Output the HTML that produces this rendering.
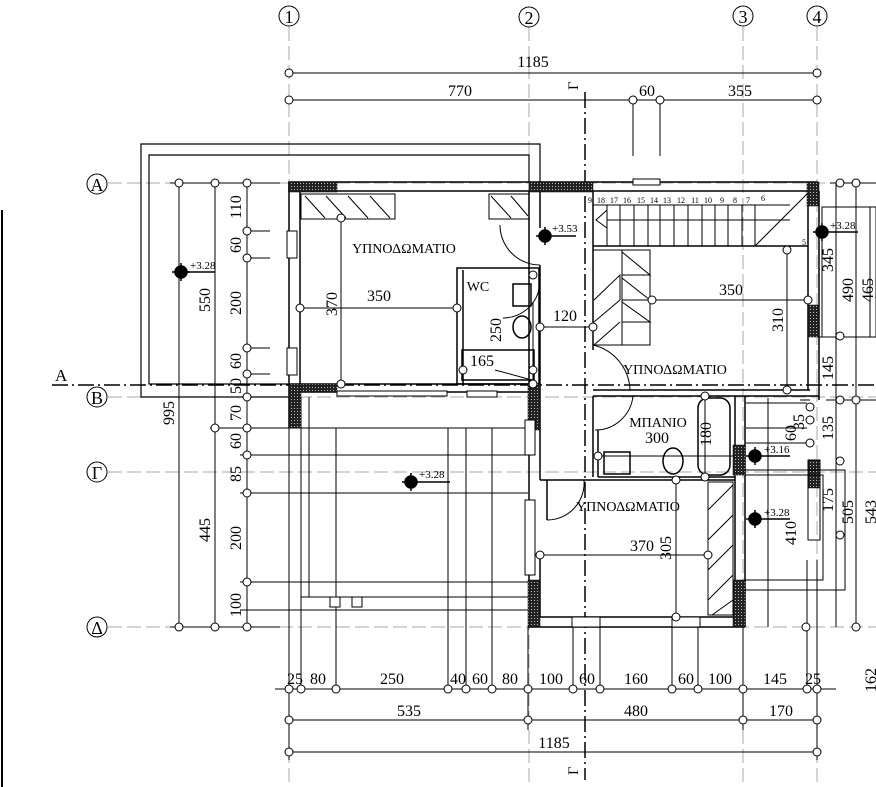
<!DOCTYPE html>
<html><head><meta charset="utf-8"><style>
html,body{margin:0;padding:0;background:#fff;}
svg{display:block;font-family:"Liberation Serif",serif;}
</style></head><body>
<svg width="876" height="787" viewBox="0 0 876 787" xmlns="http://www.w3.org/2000/svg">
<defs>
<pattern id="h" width="3" height="3" patternUnits="userSpaceOnUse"><rect width="3" height="3" fill="#222"/><rect x="0" y="0" width="1" height="1" fill="#bbb"/></pattern>
</defs>
<g stroke="#aaa" stroke-width="1" stroke-dasharray="14 5" fill="none">
<line x1="289" y1="27" x2="289" y2="787"/><line x1="529" y1="27" x2="529" y2="787"/>
<line x1="743" y1="27" x2="743" y2="787"/><line x1="817" y1="27" x2="817" y2="787"/>
<line x1="108" y1="183" x2="876" y2="183"/><line x1="108" y1="397" x2="876" y2="397"/>
<line x1="108" y1="472" x2="876" y2="472"/><line x1="108" y1="627" x2="876" y2="627"/>
</g>
<g stroke="#000" stroke-width="1" fill="#fff">
<circle cx="289" cy="16" r="10"/><circle cx="529" cy="17" r="10"/><circle cx="743" cy="16" r="10"/><circle cx="817" cy="16" r="10"/>
<circle cx="97" cy="184" r="10"/><circle cx="97" cy="397" r="10"/><circle cx="97" cy="472" r="10"/><circle cx="97" cy="627" r="10"/>
</g>
<g font-size="18" text-anchor="middle">
<text x="289" y="23">1</text><text x="529" y="24">2</text><text x="743" y="23">3</text><text x="817" y="23">4</text>
<text x="97" y="191">A</text><text x="97" y="404">B</text><text x="97" y="479">Γ</text><text x="97" y="634">Δ</text>
</g>
<g stroke="#000" stroke-width="1.5" stroke-dasharray="16 4 2 4" fill="none">
<line x1="52" y1="385" x2="876" y2="385"/>
<line x1="585" y1="92" x2="585" y2="780"/>
</g>
<text x="55" y="381" font-size="17">A</text>
<text x="0" y="0" font-size="15" transform="translate(578,90) rotate(-90)">Γ</text>
<text x="0" y="0" font-size="15" transform="translate(578,775) rotate(-90)">Γ</text>
<line x1="2" y1="210" x2="2" y2="787" stroke="#000" stroke-width="2"/>
<g stroke="#000" fill="none" stroke-width="1.2">
<polyline points="289,397 141,397 141,144 540,144 540,183"/>
<polyline points="289,384 149,384 149,155 529,155 529,183"/>
</g>
<g stroke="#000" stroke-width="1" fill="none">
<line x1="289" y1="73" x2="817" y2="73"/><line x1="289" y1="100" x2="817" y2="100"/>
<line x1="633" y1="100" x2="633" y2="156"/><line x1="660" y1="100" x2="660" y2="156"/>
<line x1="275" y1="689" x2="836" y2="689"/><line x1="289" y1="720" x2="817" y2="720"/><line x1="289" y1="752" x2="817" y2="752"/>
<line x1="179" y1="183" x2="179" y2="627"/><line x1="215" y1="183" x2="215" y2="627"/><line x1="247" y1="183" x2="247" y2="627"/>
<line x1="170" y1="183" x2="280" y2="183"/><line x1="170" y1="627" x2="280" y2="627"/>
<line x1="247" y1="231" x2="270" y2="231"/><line x1="247" y1="258" x2="270" y2="258"/>
<line x1="247" y1="348" x2="270" y2="348"/><line x1="247" y1="374" x2="270" y2="374"/>
<line x1="240" y1="455" x2="528" y2="455"/><line x1="240" y1="493" x2="528" y2="493"/>
<line x1="240" y1="582" x2="528" y2="582"/><line x1="240" y1="610" x2="528" y2="610"/>
<line x1="210" y1="428" x2="528" y2="428"/>
<line x1="336" y1="428" x2="336" y2="689"/><line x1="448" y1="428" x2="448" y2="689"/>
<line x1="466" y1="428" x2="466" y2="689"/><line x1="492" y1="428" x2="492" y2="689"/>
<line x1="301" y1="397" x2="301" y2="689"/><line x1="309" y1="397" x2="309" y2="597"/>
<line x1="301" y1="597" x2="528" y2="597"/>
<line x1="289" y1="397" x2="289" y2="760"/><line x1="528" y1="627" x2="528" y2="730"/>
<line x1="573" y1="627" x2="573" y2="689"/><line x1="600" y1="627" x2="600" y2="689"/>
<line x1="672" y1="627" x2="672" y2="689"/><line x1="698" y1="627" x2="698" y2="689"/>
<line x1="743" y1="627" x2="743" y2="730"/><line x1="807" y1="560" x2="807" y2="689"/>
<line x1="817" y1="560" x2="817" y2="760"/>
</g>
<g stroke="#000" stroke-width="1" fill="#fff">
<circle cx="289" cy="73" r="4"/><circle cx="817" cy="73" r="4"/>
<circle cx="289" cy="100" r="4"/><circle cx="633" cy="100" r="4"/><circle cx="660" cy="100" r="4"/><circle cx="817" cy="100" r="4"/>
<circle cx="289" cy="689" r="4"/><circle cx="301" cy="689" r="4"/><circle cx="336" cy="689" r="4"/><circle cx="448" cy="689" r="4"/><circle cx="466" cy="689" r="4"/><circle cx="492" cy="689" r="4"/><circle cx="528" cy="689" r="4"/><circle cx="573" cy="689" r="4"/><circle cx="600" cy="689" r="4"/><circle cx="672" cy="689" r="4"/><circle cx="698" cy="689" r="4"/><circle cx="743" cy="689" r="4"/><circle cx="807" cy="689" r="4"/><circle cx="817" cy="689" r="4"/>
<circle cx="289" cy="720" r="4"/><circle cx="528" cy="720" r="4"/><circle cx="743" cy="720" r="4"/><circle cx="817" cy="720" r="4"/>
<circle cx="289" cy="752" r="4"/><circle cx="817" cy="752" r="4"/>
<circle cx="179" cy="183" r="4"/><circle cx="215" cy="183" r="4"/><circle cx="247" cy="183" r="4"/>
<circle cx="247" cy="231" r="4"/><circle cx="247" cy="258" r="4"/><circle cx="247" cy="348" r="4"/><circle cx="247" cy="374" r="4"/><circle cx="247" cy="397" r="4"/>
<circle cx="215" cy="428" r="4"/><circle cx="247" cy="428" r="4"/><circle cx="247" cy="455" r="4"/><circle cx="247" cy="493" r="4"/><circle cx="247" cy="582" r="4"/>
<circle cx="179" cy="627" r="4"/><circle cx="215" cy="627" r="4"/><circle cx="247" cy="627" r="4"/>
</g>
<g font-size="16" text-anchor="middle">
<text x="533" y="67">1185</text><text x="460" y="96">770</text><text x="647" y="96">60</text><text x="740" y="96">355</text>
<text x="295" y="684">25</text><text x="318" y="684">80</text><text x="392" y="684">250</text><text x="458" y="684">40</text><text x="480" y="684">60</text><text x="510" y="684">80</text><text x="551" y="684">100</text><text x="587" y="684">60</text><text x="636" y="684">160</text><text x="686" y="684">60</text><text x="720" y="684">100</text><text x="775" y="684">145</text><text x="813" y="684">25</text>
<text x="409" y="716">535</text><text x="636" y="716">480</text><text x="781" y="716">170</text>
<text x="554" y="748">1185</text>
</g>
<g font-size="16" text-anchor="middle">
<text transform="translate(241,207) rotate(-90)">110</text>
<text transform="translate(241,245) rotate(-90)">60</text>
<text transform="translate(241,303) rotate(-90)">200</text>
<text transform="translate(241,361) rotate(-90)">60</text>
<text transform="translate(241,386) rotate(-90)">50</text>
<text transform="translate(241,413) rotate(-90)">70</text>
<text transform="translate(241,441) rotate(-90)">60</text>
<text transform="translate(241,474) rotate(-90)">85</text>
<text transform="translate(241,538) rotate(-90)">200</text>
<text transform="translate(241,605) rotate(-90)">100</text>
<text transform="translate(210,300) rotate(-90)">550</text>
<text transform="translate(210,530) rotate(-90)">445</text>
<text transform="translate(174,413) rotate(-90)">995</text>
</g>
<g stroke="#000" fill="#000" stroke-width="1.5">
<circle cx="181" cy="272" r="6"/><line x1="172" y1="272" x2="190" y2="272"/><line x1="181" y1="263" x2="181" y2="281"/><line x1="186" y1="272" x2="215" y2="272"/>
<circle cx="411" cy="482" r="6"/><line x1="402" y1="482" x2="450" y2="482"/><line x1="411" y1="473" x2="411" y2="491"/>
<circle cx="545" cy="236" r="6"/><line x1="536" y1="236" x2="576" y2="236"/><line x1="545" y1="227" x2="545" y2="245"/>
<circle cx="822" cy="232" r="6"/><line x1="813" y1="232" x2="858" y2="232"/><line x1="822" y1="223" x2="822" y2="241"/>
<circle cx="755" cy="456" r="6"/><line x1="746" y1="456" x2="790" y2="456"/><line x1="755" y1="447" x2="755" y2="465"/>
<circle cx="755" cy="519" r="6"/><line x1="746" y1="519" x2="790" y2="519"/><line x1="755" y1="510" x2="755" y2="528"/>
</g>
<g font-size="11">
<text x="190" y="269">+3.28</text><text x="419" y="478">+3.28</text><text x="552" y="232">+3.53</text>
<text x="830" y="229">+3.28</text><text x="764" y="453">+3.16</text><text x="764" y="516">+3.28</text>
</g>
<g stroke="#000" stroke-width="1.5" fill="none">
<rect x="289" y="182" width="528" height="9"/>
<line x1="300" y1="191" x2="300" y2="384"/><line x1="289" y1="182" x2="289" y2="428"/>
<line x1="289" y1="384" x2="529" y2="384"/><line x1="289" y1="392" x2="529" y2="392"/>
<line x1="529" y1="191" x2="529" y2="627"/><line x1="540" y1="191" x2="540" y2="228"/>
<line x1="540" y1="265" x2="540" y2="384"/>
<line x1="540" y1="384" x2="540" y2="480"/><line x1="547" y1="480" x2="547" y2="520"/>
<line x1="540" y1="555" x2="540" y2="617"/>
<rect x="457" y="268" width="82" height="116"/><line x1="463" y1="270" x2="463" y2="384"/>
<rect x="462" y="350" width="72" height="30"/>
<line x1="593" y1="191" x2="593" y2="350"/><line x1="808" y1="191" x2="808" y2="390"/><line x1="819" y1="191" x2="819" y2="400"/>
<line x1="593" y1="246" x2="808" y2="246"/>
<line x1="593" y1="390" x2="810" y2="390"/><line x1="593" y1="396" x2="819" y2="396"/>
<line x1="735" y1="396" x2="735" y2="627"/><line x1="745" y1="396" x2="745" y2="627"/>
<line x1="593" y1="396" x2="593" y2="477"/><line x1="598" y1="430" x2="598" y2="477"/>
<line x1="598" y1="477" x2="735" y2="477"/><line x1="540" y1="480" x2="735" y2="480"/>
<line x1="528" y1="617" x2="745" y2="617"/><line x1="528" y1="627" x2="745" y2="627"/>
<rect x="698" y="398" width="32" height="77" rx="10"/>
<rect x="604" y="452" width="26" height="22"/>
<ellipse cx="673" cy="461" rx="10" ry="13"/>
<ellipse cx="522" cy="327" rx="9" ry="11"/>
<rect x="513" y="284" width="18" height="22"/>
</g>
<g fill="url(#h)" stroke="#000" stroke-width="0.5">
<rect x="289" y="182" width="48" height="10"/><rect x="529" y="182" width="64" height="10"/><rect x="807" y="182" width="12" height="24"/>
<rect x="289" y="384" width="12" height="44"/><rect x="300" y="384" width="37" height="8"/>
<rect x="528" y="384" width="12" height="46"/><rect x="808" y="305" width="11" height="32"/>
<rect x="733" y="445" width="12" height="30"/><rect x="808" y="460" width="12" height="28"/>
<rect x="528" y="580" width="12" height="47"/><rect x="733" y="580" width="12" height="47"/>
</g>
<g stroke="#000" fill="#fff" stroke-width="1">
<rect x="287" y="231" width="10" height="27"/><rect x="287" y="348" width="10" height="27"/>
<rect x="337" y="391" width="110" height="5"/><rect x="467" y="391" width="30" height="6"/>
<rect x="633" y="179" width="27" height="6"/>
<rect x="525" y="420" width="10" height="35"/><rect x="525" y="500" width="10" height="75"/>
<rect x="572" y="617" width="28" height="10"/><rect x="672" y="617" width="28" height="10"/>
<rect x="330" y="597" width="10" height="10"/><rect x="352" y="597" width="10" height="10"/>
</g>
<g stroke="#000" stroke-width="1" fill="none">
<rect x="301" y="194" width="94" height="25"/><rect x="489" y="194" width="40" height="25"/>
<path d="M305,196 L325,218 M326,196 L346,218 M348,196 L368,218 M370,196 L390,218 M491,196 L511,218 M511,196 L528,216"/>
<rect x="593" y="250" width="57" height="95"/>
<line x1="622" y1="250" x2="622" y2="345"/>
<path d="M622,252 L650,275 L622,275 M622,278 L650,300 L622,300 M622,302 L650,322 L622,322 M594,300 L620,275 L620,300 M594,322 L620,300 M594,345 L620,322"/>
<rect x="708" y="482" width="25" height="133"/>
<path d="M733,485 L708,510 M733,515 L708,540 M733,545 L708,570 M733,575 L708,600 M733,600 L712,615"/>
<path d="M500,225 A40,40 0 0 0 540,265"/>
<path d="M540,280 A37,37 0 0 1 503,318"/>
<path d="M593,345 A48,48 0 0 1 630,390"/>
<path d="M595,430 A38,38 0 0 0 633,396"/>
<path d="M547,520 A37,37 0 0 0 584,480"/>
<line x1="593" y1="205" x2="790" y2="205"/>
<line x1="607" y1="220" x2="790" y2="220"/>
<path d="M607,205 V246 M620,205 V246 M634,205 V246 M648,205 V246 M660,205 V246 M674,205 V246 M688,205 V246 M702,205 V246 M715,205 V246 M728,205 V246 M742,205 V246 M755,205 V246 M755,246 L808,193 M607,210 L596,220 L607,228"/>
<line x1="341" y1="218" x2="341" y2="384"/><line x1="300" y1="308" x2="457" y2="308"/>
<line x1="540" y1="327" x2="593" y2="327"/><line x1="652" y1="300" x2="808" y2="300"/>
<line x1="787" y1="250" x2="787" y2="390"/><line x1="598" y1="456" x2="735" y2="456"/>
<line x1="705" y1="396" x2="705" y2="477"/><line x1="540" y1="555" x2="708" y2="555"/>
<line x1="676" y1="480" x2="676" y2="617"/><line x1="533" y1="302" x2="533" y2="384"/>
<line x1="495" y1="370" x2="532" y2="380" />
<line x1="836" y1="183" x2="836" y2="627"/><line x1="856" y1="183" x2="856" y2="627"/>
<line x1="830" y1="183" x2="876" y2="183"/>
<rect x="822" y="207" width="48" height="130"/><rect x="870" y="207" width="6" height="130"/>
<line x1="819" y1="337" x2="876" y2="337"/>
<line x1="826" y1="400" x2="876" y2="400"/>
<line x1="768" y1="398" x2="768" y2="627"/>
<line x1="746" y1="403" x2="807" y2="403"/>
<line x1="746" y1="428" x2="807" y2="428"/><line x1="746" y1="443" x2="807" y2="443"/>
<polyline points="745,475 823,475 823,580 745,580"/>
<polyline points="745,470 845,470 845,590 745,590"/>
<rect x="808" y="460" width="12" height="80"/>
<line x1="800" y1="400" x2="810" y2="400"/>
</g>
<g stroke="#000" fill="#fff" stroke-width="1">
<circle cx="341" cy="384" r="4"/><circle cx="341" cy="218" r="4"/><circle cx="300" cy="308" r="4"/><circle cx="457" cy="308" r="4"/>
<circle cx="540" cy="327" r="4"/><circle cx="593" cy="327" r="4"/><circle cx="652" cy="300" r="4"/><circle cx="808" cy="300" r="4"/>
<circle cx="787" cy="250" r="4"/><circle cx="787" cy="390" r="4"/><circle cx="598" cy="456" r="4"/>
<circle cx="705" cy="396" r="4"/><circle cx="705" cy="477" r="4"/><circle cx="540" cy="555" r="4"/><circle cx="708" cy="555" r="4"/>
<circle cx="676" cy="480" r="4"/><circle cx="676" cy="617" r="4"/><circle cx="533" cy="275" r="4"/><circle cx="533" cy="384" r="4"/>
<circle cx="463" cy="370" r="4"/><circle cx="533" cy="370" r="4"/>
<circle cx="840" cy="183" r="4"/><circle cx="856" cy="183" r="4"/><circle cx="840" cy="336" r="4"/><circle cx="840" cy="400" r="4"/><circle cx="856" cy="400" r="4"/>
<circle cx="840" cy="461" r="4"/><circle cx="840" cy="535" r="4"/><circle cx="806" cy="627" r="4"/><circle cx="856" cy="627" r="4"/>
<circle cx="810" cy="407" r="4"/><circle cx="810" cy="420" r="4"/><circle cx="810" cy="443" r="4"/>
</g>
<g font-size="14" text-anchor="middle">
<text x="404" y="253">ΥΠΝΟΔΩΜΑΤΙΟ</text>
<text x="675" y="374">ΥΠΝΟΔΩΜΑΤΙΟ</text>
<text x="628" y="511">ΥΠΝΟΔΩΜΑΤΙΟ</text>
<text x="658" y="427">ΜΠΑΝΙΟ</text>
<text x="478" y="291">WC</text>
</g>
<g font-size="16" text-anchor="middle">
<text x="379" y="301">350</text><text x="565" y="321">120</text><text x="731" y="295">350</text>
<text x="482" y="366">165</text><text x="657" y="443">300</text><text x="642" y="551">370</text>
<text transform="translate(337,304) rotate(-90)">370</text>
<text transform="translate(501,330) rotate(-90)">250</text>
<text transform="translate(783,320) rotate(-90)">310</text>
<text transform="translate(711,434) rotate(-90)">180</text>
<text transform="translate(671,548) rotate(-90)">305</text>
<text transform="translate(833,260) rotate(-90)">345</text>
<text transform="translate(853,290) rotate(-90)">490</text>
<text transform="translate(873,290) rotate(-90)">465</text>
<text transform="translate(833,368) rotate(-90)">145</text>
<text transform="translate(804,422) rotate(-90)">35</text>
<text transform="translate(796,433) rotate(-90)">60</text>
<text transform="translate(833,428) rotate(-90)">135</text>
<text transform="translate(833,500) rotate(-90)">175</text>
<text transform="translate(853,512) rotate(-90)">505</text>
<text transform="translate(876,512) rotate(-90)">543</text>
<text transform="translate(796,533) rotate(-90)">410</text>
<text transform="translate(876,680) rotate(-90)">162</text>
</g>
<g font-size="8" text-anchor="middle">
<text x="590" y="203">9</text><text x="601" y="203">18</text><text x="614" y="203">17</text><text x="627" y="203">16</text><text x="641" y="203">15</text><text x="654" y="203">14</text><text x="667" y="203">13</text><text x="681" y="203">12</text><text x="695" y="203">11</text><text x="708" y="203">10</text><text x="722" y="203">9</text><text x="735" y="203">8</text><text x="748" y="203">7</text><text x="763" y="201">6</text><text x="804" y="245">5</text>
</g>
</svg>
</body></html>
